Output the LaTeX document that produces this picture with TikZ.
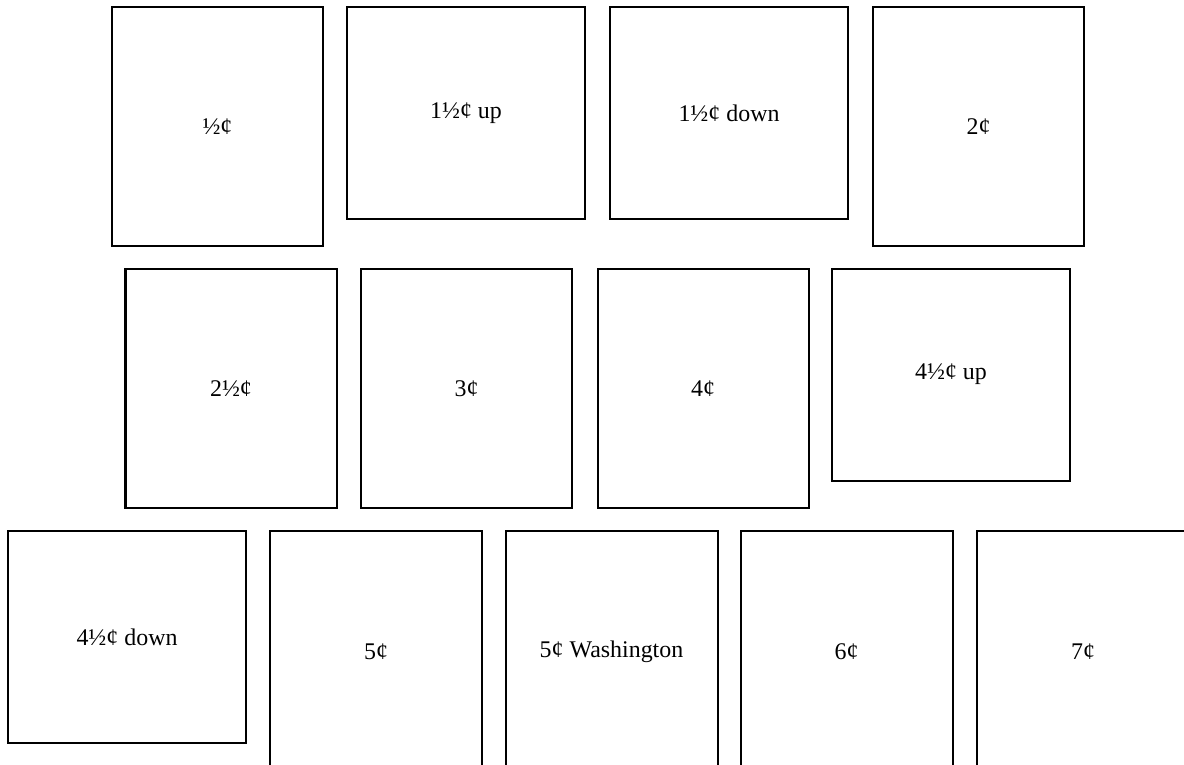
\documentclass[tikz,border=0pt]{standalone}
\usepackage{fontspec}
\setmainfont{Liberation Serif}
\begin{document}
\begin{tikzpicture}[x=1bp,y=-1bp,
  stamp/.style={draw=black,line width=2bp,inner sep=0pt,
    font=\fontsize{24}{28}\selectfont},
  sq/.style={stamp,minimum width=211bp,minimum height=239bp},
  wide/.style={stamp,minimum width=238bp,minimum height=212bp},
  tall/.style={stamp,minimum width=212bp,minimum height=242bp}]
\useasboundingbox[fill=white] (0,0) rectangle (1184,765);
% row 1
\node[sq]   (s1)  at (217.5,126.5) {½¢};
\node[wide] (s2)  at (466,113) {1½¢ up};
\node[wide] (s3)  at (729,113) {1½¢ down};
\node[sq]   (s4)  at (978.5,126.5) {2¢};
% row 2
\node[sq]   (s5)  at (231,388.5) {2½¢};
\node[sq]   (s6)  at (466.5,388.5) {3¢};
\node[sq]   (s7)  at (703,388.5) {4¢};
\node[wide] (s8)  at (951,374.5) {4½¢ up};
% row 3
\node[wide] (s9)  at (127,637) {4½¢ down};
\node[tall] (s10) at (376,652) {5¢};
\node[tall] (s11) at (611.5,652) {5¢ Washington};
\node[tall] (s12) at (846.5,652) {6¢};
\node[tall] (s13) at (1083,652) {7¢};
\end{tikzpicture}
\end{document}
